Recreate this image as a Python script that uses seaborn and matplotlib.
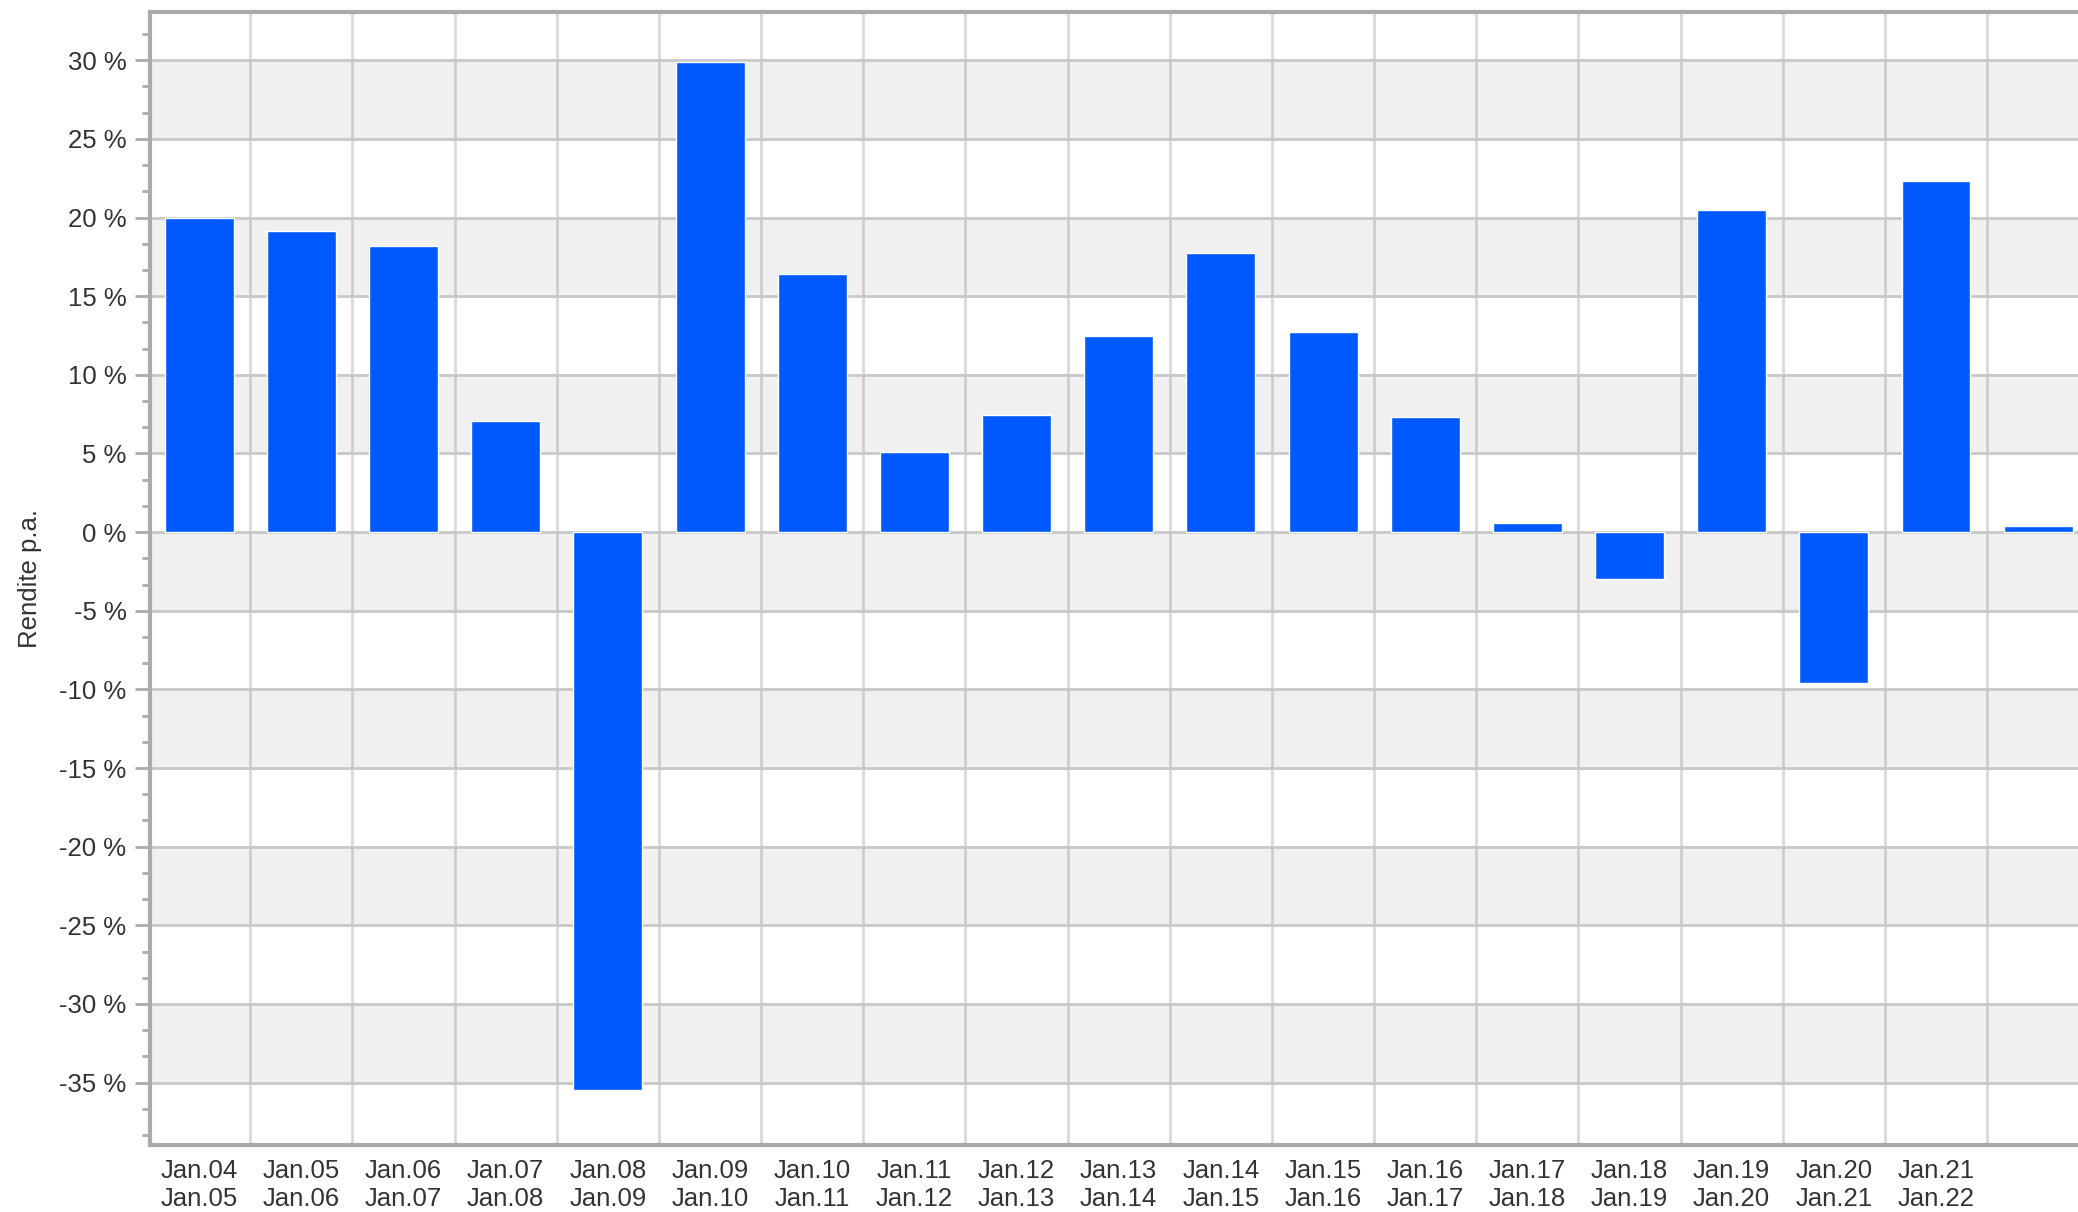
import numpy as np
import pandas as pd
import seaborn as sns
import matplotlib.pyplot as plt
from matplotlib.ticker import MultipleLocator, FuncFormatter

# Jahresrenditen (Jan. bis Jan.)
start_years = ["04", "05", "06", "07", "08", "09", "10", "11", "12",
               "13", "14", "15", "16", "17", "18", "19", "20", "21", "22"]
end_years = ["05", "06", "07", "08", "09", "10", "11", "12", "13",
             "14", "15", "16", "17", "18", "19", "20", "21", "22", "23"]
returns = [20.0, 19.15, 18.2, 7.05, -35.5, 29.9, 16.4, 5.1, 7.45,
           12.45, 17.75, 12.7, 7.3, 0.58, -3.0, 20.5, -9.6, 22.3, 0.38]

labels = [f"Jan.{a}\nJan.{b}" for a, b in zip(start_years, end_years)]
labels[-1] = ""  # last period has no label in the source

df = pd.DataFrame({"periode": labels, "rendite": returns})

sns.set_theme(style="white")
plt.rcParams["font.family"] = ["Liberation Sans", "DejaVu Sans"]

fig = plt.figure(figsize=(20.78, 12.12), dpi=100)
ax = fig.add_axes([150 / 2078, 67 / 1212, 1928 / 2078, 1133 / 1212])

# alternating grey bands
for lo in range(-35, 30, 10):
    ax.axhspan(lo, lo + 5, color="#f0f0f0", zorder=0, lw=0)

sns.barplot(data=df, x="periode", y="rendite", color="#0059ff",
            width=0.675, saturation=1, ax=ax, zorder=3)

n = len(returns)
ax.yaxis.set_major_locator(MultipleLocator(5))
ax.yaxis.set_minor_locator(MultipleLocator(5 / 3))
ax.yaxis.set_major_formatter(FuncFormatter(lambda v, p: f"{v:.0f} %"))
ax.set_xticks(np.arange(-0.5, n, 1), minor=True)

# limits after the ticks, set_xticks would widen them otherwise
ax.set_xlim(-0.482, 18.39)
ax.set_ylim(-38.97, 33.07)

ax.grid(False)
ax.grid(which="major", axis="y", color="#c8c8c8", lw=2, zorder=1)
ax.grid(which="minor", axis="x", color="#000000", alpha=0.15, lw=2, zorder=1)
ax.set_axisbelow(True)

for side in ["left", "top", "bottom"]:
    ax.spines[side].set_color("#aaaaaa")
    ax.spines[side].set_linewidth(3)
ax.spines["right"].set_visible(False)

ax.tick_params(axis="y", which="major", left=True, length=11, width=2,
               color="#aaaaaa", labelsize=18.5, labelcolor="#333333", pad=6)
ax.tick_params(axis="y", which="minor", left=True, length=6, width=2,
               color="#aaaaaa")
ax.tick_params(axis="x", which="both", length=0, bottom=False,
               labelsize=18.5, labelcolor="#333333", pad=10)
for t in ax.get_xticklabels():
    t.set_linespacing(1.2)

ax.set_xlabel("")
ax.set_ylabel("Rendite p.a.", fontsize=18.5, color="#333333", labelpad=12)

fig.savefig("out.png", dpi=100)
